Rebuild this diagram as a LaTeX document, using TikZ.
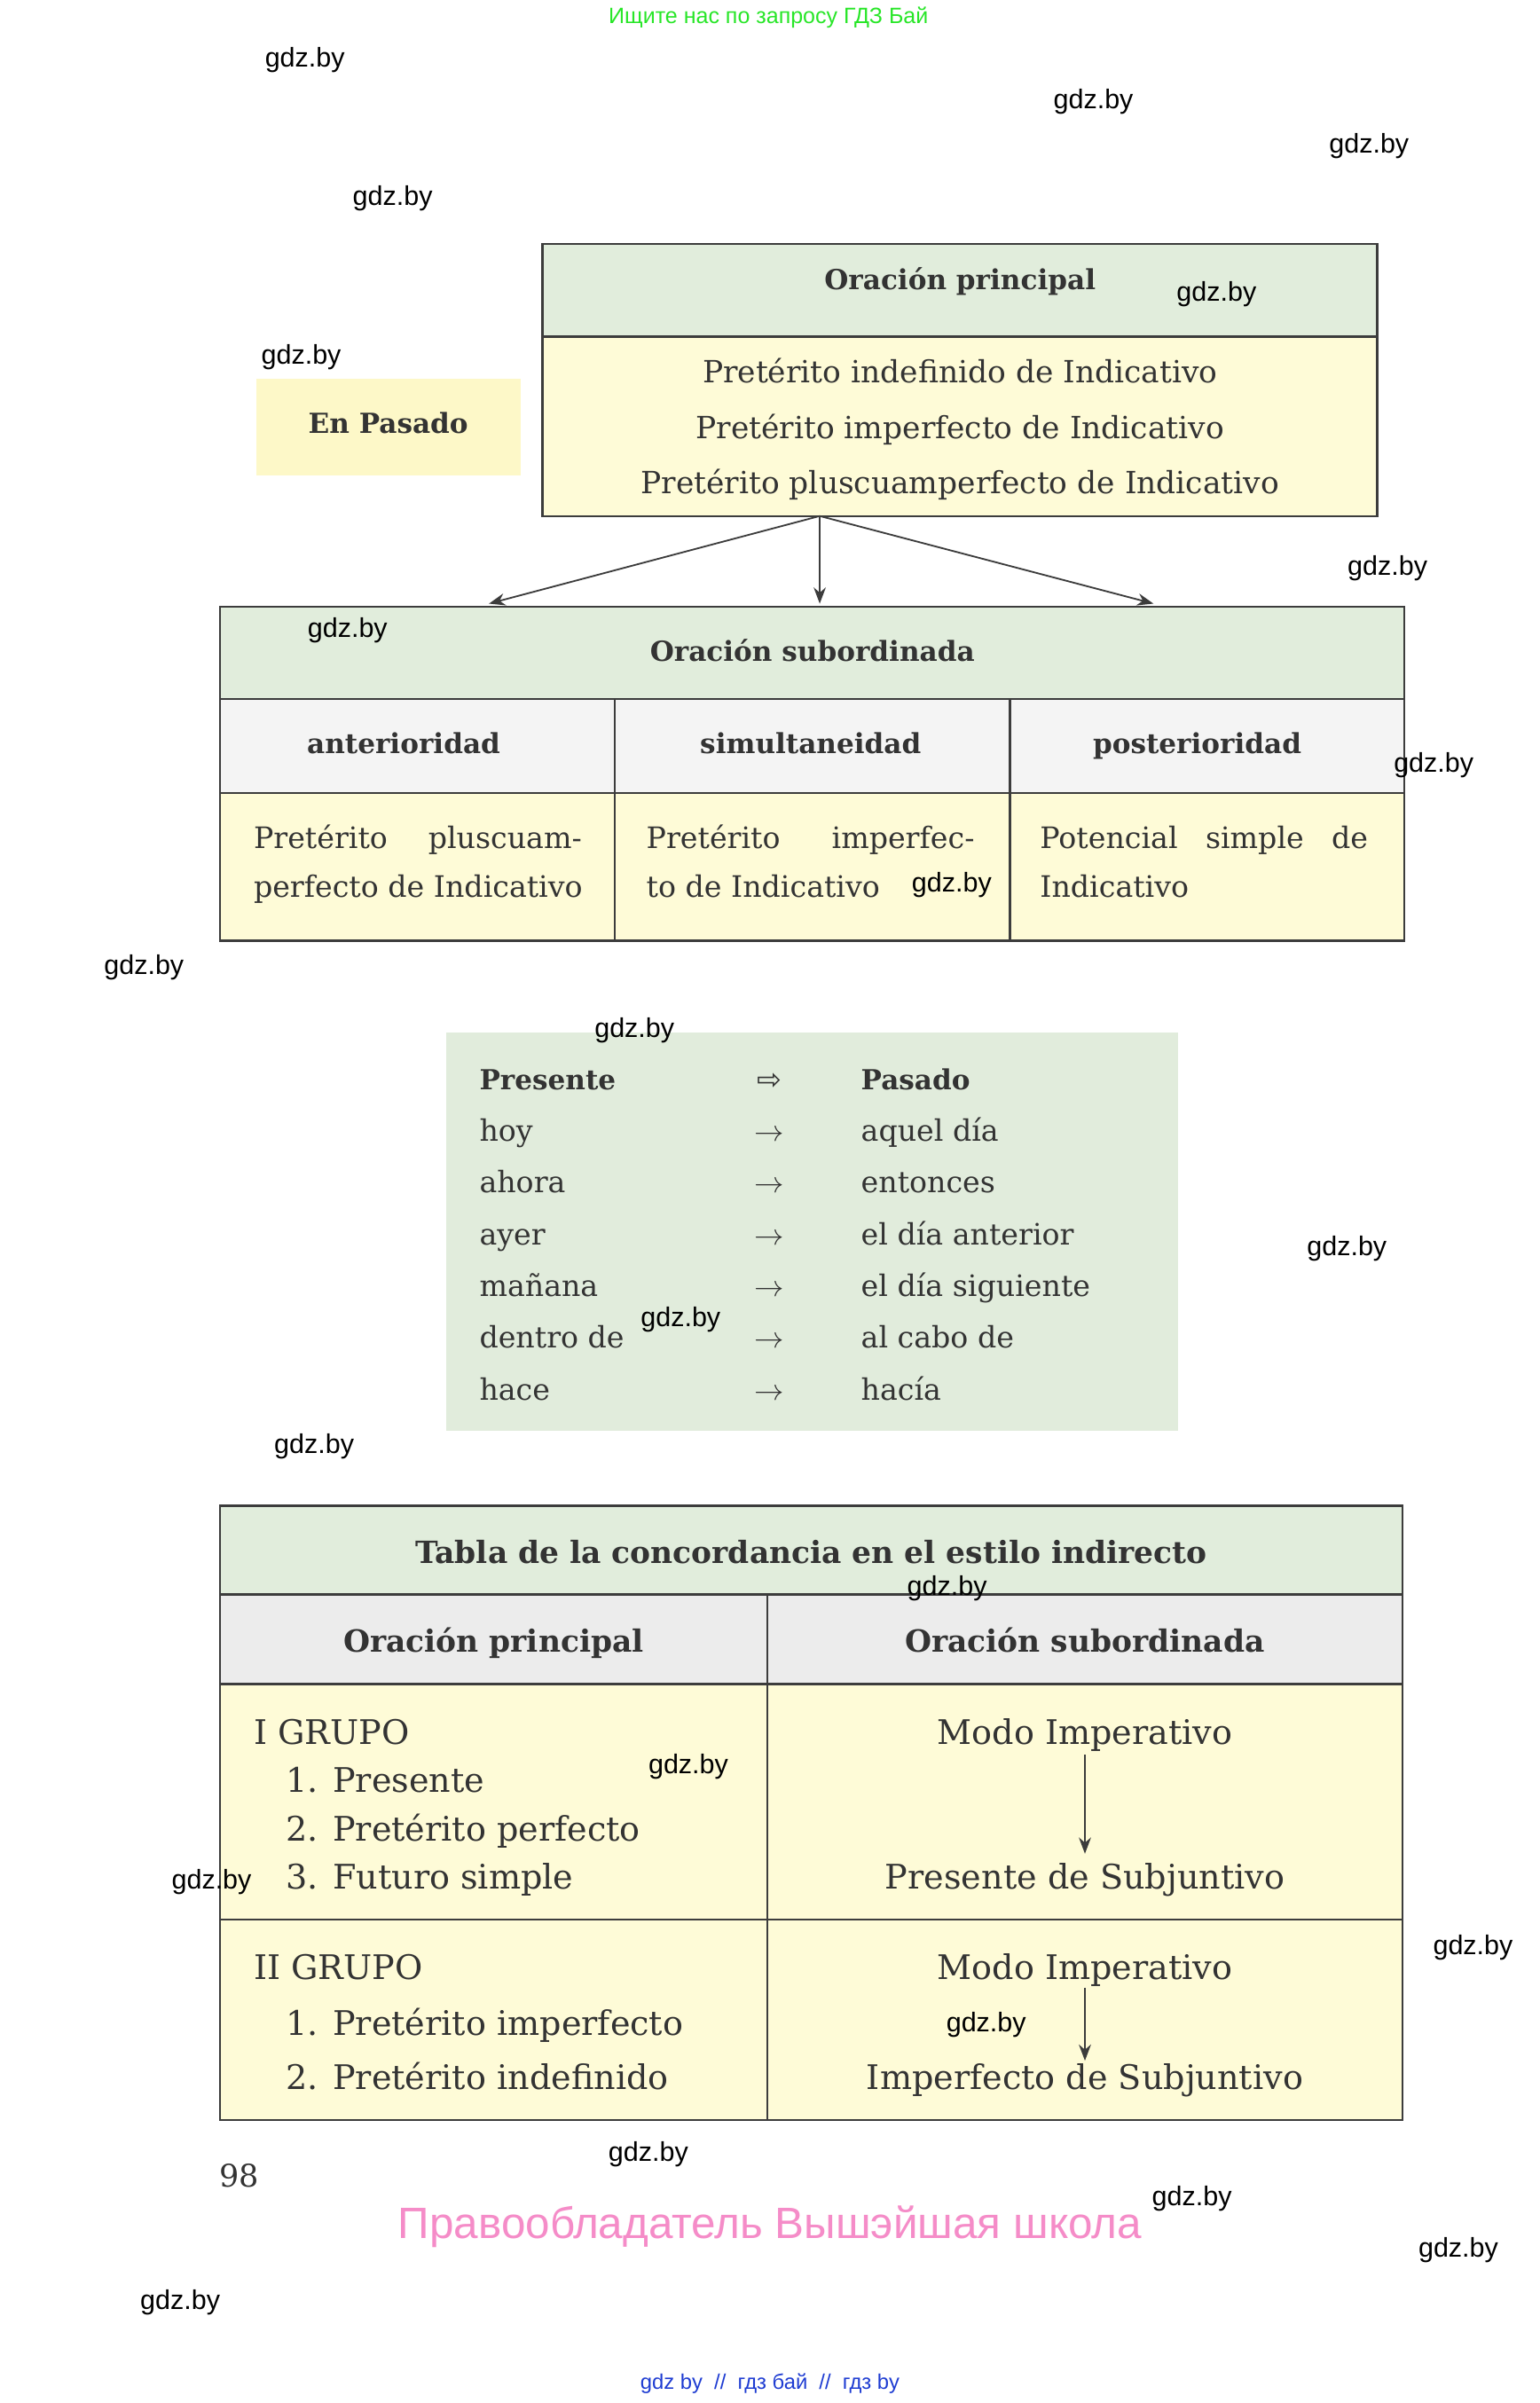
\documentclass[tikz,border=0pt]{standalone}
\usepackage{fontspec}
\setmainfont{DejaVu Serif}
\newfontfamily\wmfont{Liberation Sans}
\newfontfamily\arrfont{DejaVu Sans}
\usetikzlibrary{arrows.meta}

\definecolor{headgreen}{RGB}{225,237,220}
\definecolor{cellyellow}{RGB}{254,251,215}
\definecolor{pasyellow}{RGB}{253,248,200}
\definecolor{rowgray}{RGB}{244,244,244}
\definecolor{rowgrayb}{RGB}{236,236,236}
\definecolor{boxgreen}{RGB}{225,236,220}
\definecolor{rulecol}{RGB}{60,60,60}
\definecolor{inkcol}{RGB}{51,51,51}
\definecolor{wmgreen}{RGB}{40,230,40}
\definecolor{wmpink}{RGB}{245,140,200}
\definecolor{wmblue}{RGB}{30,60,210}

\begin{document}
\begin{tikzpicture}[x=0.2mm,y=-0.2mm,
  rule/.style={draw=rulecol,line width=0.8pt},
  txt/.style={inner sep=0pt,text=inkcol,font=\fontsize{10.9}{13}\selectfont},
  txtl/.style={inner sep=0pt,text=inkcol,font=\fontsize{11.3}{13.5}\selectfont},
  btxt/.style={inner sep=0pt,text=inkcol,font=\bfseries\fontsize{10.2}{12}\selectfont},
  txtb/.style={inner sep=0pt,text=inkcol,font=\fontsize{12.5}{15}\selectfont},
  btxtb/.style={inner sep=0pt,text=inkcol,font=\bfseries\fontsize{11.3}{14}\selectfont},
  wm/.style={inner sep=0pt,font=\wmfont\fontsize{10}{12}\selectfont},
  arr/.style={-{Stealth[length=6pt,width=4.5pt]},draw=rulecol,line width=0.6pt}]
\useasboundingbox (0,0) rectangle (1000,1560.5);
\fill[white] (0,0) rectangle (1000,1560.5);

% top box
\fill[pasyellow] (166.3,245.8) rectangle (337.9,308.6);
\node[btxt,anchor=base] (enpasado) at (252.1,281.3) {En Pasado};

\filldraw[rule,fill=headgreen] (352.3,158.4) rectangle (894.4,218.5);
\filldraw[rule,fill=cellyellow] (352.3,218.5) rectangle (894.4,335.1);
\node[btxt,anchor=base] (oppal) at (623.4,187.8) {Oración principal};
\node[txtl,anchor=base] (pt1) at (623.4,248.7) {Pretérito indefinido de Indicativo};
\node[txtl,anchor=base] (pt2) at (623.4,285.1) {Pretérito imperfecto de Indicativo};
\node[txtl,anchor=base] (pt3) at (623.4,320.7) {Pretérito pluscuamperfecto de Indicativo};

\coordinate (fork) at (532.3,335.1);
\coordinate (toant) at (317.5,392);
\coordinate (tosim) at (532.3,392);
\coordinate (topos) at (749,392);
\draw[arr] (fork) -- (toant);
\draw[arr] (fork) -- (tosim);
\draw[arr] (fork) -- (topos);

% subordinate table
\filldraw[rule,fill=headgreen] (143,394) rectangle (912,454);
\filldraw[rule,fill=rowgray] (143,454) rectangle (912,515);
\filldraw[rule,fill=cellyellow] (143,515) rectangle (912,611);
\draw[rule] (399.3,454) -- (399.3,611);
\draw[rule] (655.7,454) -- (655.7,611);
\node[btxt,anchor=base] (osub) at (527.5,429.7) {Oración subordinada};
\node[btxt,anchor=base] (ant) at (262.1,489.2) {anterioridad};
\node[btxt,anchor=base] (sim) at (526.4,489.2) {simultaneidad};
\node[btxt,anchor=base] (pos) at (777.4,489.2) {posterioridad};

\node[txt,anchor=base west] (ant1) at (164.4,551) {\makebox[42.6mm][s]{Pretérito pluscuam-}};
\node[txt,anchor=base west] (ant2) at (164.4,582.8) {perfecto de Indicativo};
\node[txt,anchor=base west] (sim1) at (419.4,551) {\makebox[42.6mm][s]{Pretérito imperfec-}};
\node[txt,anchor=base west] (sim2) at (419.4,582.8) {to de Indicativo};
\node[txt,anchor=base west] (pos1) at (675,551) {\makebox[42.6mm][s]{Potencial simple de}};
\node[txt,anchor=base west] (pos2) at (675,582.8) {Indicativo};

% presente -> pasado
\fill[boxgreen] (290,670.5) rectangle (765,929);
\node[btxt,anchor=base west] (pres) at (311,707.5) {Presente};
\node[txt,anchor=base] (parr) at (499.5,707.5) {\arrfont ⇨};
\node[btxt,anchor=base west] (pas) at (558.8,707.5) {Pasado};
\foreach \a/\b [count=\i] in {hoy/aquel día, ahora/entonces, ayer/el día anterior,
    mañana/el día siguiente, dentro de/al cabo de, hace/hacía}
{
  \node[txt,anchor=base west] (pw\i) at (311,707.5+33.6*\i) {\a};
  \node[txt,anchor=base] (ar\i) at (499.5,707.5+33.6*\i) {$\rightarrow$};
  \node[txt,anchor=base west] (pd\i) at (558.8,707.5+33.6*\i) {\b};
}

% concordancia table
\filldraw[rule,fill=headgreen] (142.8,977.8) rectangle (910.7,1035.4);
\filldraw[rule,fill=rowgrayb] (142.8,1035.4) rectangle (910.7,1093.6);
\filldraw[rule,fill=cellyellow] (142.8,1093.6) rectangle (910.7,1246.4);
\filldraw[rule,fill=cellyellow] (142.8,1246.4) rectangle (910.7,1376.8);
\draw[rule] (498.2,1035.4) -- (498.2,1376.8);
\node[btxtb,anchor=base] (tabla) at (526.75,1015.3) {Tabla de la concordancia en el estilo indirecto};
\node[btxtb,anchor=base] (hpal) at (320.5,1073) {Oración principal};
\node[btxtb,anchor=base] (hsub) at (704.5,1073) {Oración subordinada};

\node[txtb,anchor=base west] (g1) at (164.4,1133) {I GRUPO};
\node[txtb,anchor=base west] (g1a) at (185.5,1164) {1. Presente};
\node[txtb,anchor=base west] (g1b) at (185.5,1195.5) {2. Pretérito perfecto};
\node[txtb,anchor=base west] (g1c) at (185.5,1226.8) {3. Futuro simple};
\node[txtb,anchor=base west] (g2) at (164.4,1285.7) {II GRUPO};
\node[txtb,anchor=base west] (g2a) at (185.5,1322) {1. Pretérito imperfecto};
\node[txtb,anchor=base west] (g2b) at (185.5,1357) {2. Pretérito indefinido};

\node[txtb,anchor=base] (imp1) at (704.5,1133) {Modo Imperativo};
\node[txtb,anchor=base] (subj1) at (704.5,1226.8) {Presente de Subjuntivo};
\node[txtb,anchor=base] (imp2) at (704.5,1285.7) {Modo Imperativo};
\node[txtb,anchor=base] (subj2) at (704.5,1357) {Imperfecto de Subjuntivo};
\draw[arr,shorten <=1pt,shorten >=3.4pt] (imp1) -- (subj1);
\draw[arr,shorten >=1pt] (imp2) -- (subj2);

% page number and watermarks
\node[inner sep=0pt,text=inkcol,font=\fontsize{11.5}{13}\selectfont,anchor=base west] (page) at (142,1420) {98};
\node[inner sep=0pt,text=wmgreen,font=\wmfont\fontsize{8.2}{10}\selectfont] (wmtop) at (499,11.3) {Ищите нас по запросу ГДЗ Бай};
\node[inner sep=0pt,text=wmpink,font=\wmfont\fontsize{16.2}{19}\selectfont] (wmpink) at (500,1446) {Правообладатель Вышэйшая школа};
\node[inner sep=0pt,text=wmblue,font=\wmfont\fontsize{7.8}{9}\selectfont] (wmfoot) at (500,1548) {gdz by\ \ //\ \ гдз бай\ \ //\ \ гдз by};
\foreach \x/\y [count=\i] in {198/39, 710/66, 889/95, 255/129, 790/191, 195.6/232,
    901/369, 225.7/409.5, 931/497, 618/574.5, 93.5/628, 412/669, 874.6/811,
    442/857, 204/939.3, 615/1031.5, 447/1147, 137.4/1222, 956.5/1264.5,
    640.4/1315, 421/1399, 774/1428, 947/1461, 117/1495}
  \node[wm] (wm\i) at (\x,\y) {gdz.by};
\end{tikzpicture}
\end{document}
